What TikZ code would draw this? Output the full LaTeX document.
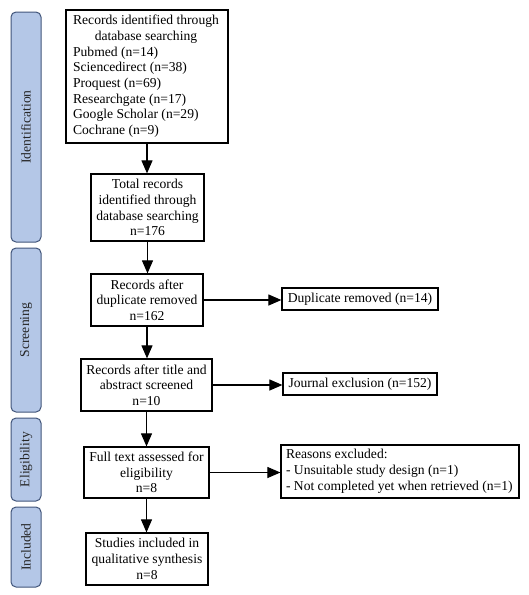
\documentclass[tikz,border=0pt]{standalone}
\usepackage{fontspec}
\setmainfont{Liberation Serif}
\usetikzlibrary{arrows.meta}
\definecolor{stagefill}{HTML}{B4C7E7}
\definecolor{stageline}{HTML}{41557A}
\tikzset{
  every node/.style={font=\fontsize{13.6}{15.7}\selectfont},
  box/.style={draw, line width=1.2pt, inner sep=0pt, align=center},
  stage/.style={draw=stageline, fill=stagefill, line width=1pt, rounded corners=5pt, inner sep=0pt, minimum width=30pt},
  stagetext/.style={rotate=90, text=black!85},
  conn/.style={line width=1.1pt, -{Triangle[width=11pt,length=13pt]}}
}
\begin{document}
\begin{tikzpicture}[x=1pt,y=-1pt]
\useasboundingbox (0,0) rectangle (529,595);
% stages
\node[stage, minimum height=230pt] (s1) at (26,127) {};
\node[stagetext] (t1) at (s1.center) {Identification};
\node[stage, minimum height=164pt] (s2) at (26,330) {};
\node[stagetext] (t2) at (s2.center) {Screening};
\node[stage, minimum height=83pt] (s3) at (26,459.5) {};
\node[stagetext] (t3) at (s3.center) {Eligibility};
\node[stage, minimum height=80pt] (s4) at (26,547) {};
\node[stagetext] (t4) at (s4.center) {Included};
% main boxes
\node[box, minimum width=162pt, minimum height=133pt] (b1) at (147,76.5) {%
\begin{tabular}{@{}l@{}}
\multicolumn{1}{@{}c@{}}{Records identified through}\\
\multicolumn{1}{@{}c@{}}{database searching}\\
Pubmed (n=14)\\
Sciencedirect (n=38)\\
Proquest (n=69)\\
Researchgate (n=17)\\
Google Scholar (n=29)\\
Cochrane (n=9)
\end{tabular}\hspace*{2pt}};
\node[box, minimum width=113pt, minimum height=67pt] (b2) at (147.5,207.5) {Total records\\identified through\\database searching\\n=176};
\node[box, minimum width=112pt, minimum height=52pt] (b3) at (147,300) {Records after\\duplicate removed\\n=162};
\node[box, minimum width=131pt, minimum height=52pt] (b4) at (146.5,385) {Records after title and\\abstract screened\\n=10};
\node[box, minimum width=125pt, minimum height=51pt] (b5) at (146.5,472.5) {Full text assessed for\\eligibility\\n=8};
\node[box, minimum width=122pt, minimum height=52pt] (b6) at (147,559) {Studies included in\\qualitative synthesis\\n=8};
% side boxes
\node[box, minimum width=156pt, minimum height=22pt] (d1) at (360,299) {Duplicate removed (n=14)};
\node[box, minimum width=154pt, minimum height=22pt] (d2) at (360,384) {Journal exclusion (n=152)};
\node[box, minimum width=238pt, minimum height=53pt] (d3) at (400,471.5) {\makebox[228pt][l]{\begin{tabular}{@{}l@{}}Reasons excluded:\\- Unsuitable study design (n=1)\\- Not completed yet when retrieved (n=1)\end{tabular}}};
% connectors
\draw[conn] (b1.south) -- (b1.south |- b2.north);
\draw[conn] (b2.south) -- (b2.south |- b3.north);
\draw[conn] (b3.south) -- (b3.south |- b4.north);
\draw[conn] (b4.south) -- (b4.south |- b5.north);
\draw[conn] (b5.south) -- (b5.south |- b6.north);
\draw[conn] (b3.east) -- (b3.east -| d1.west);
\draw[conn] (b4.east) -- (b4.east -| d2.west);
\draw[conn] (b5.east) -- (b5.east -| d3.west);
\end{tikzpicture}
\end{document}
